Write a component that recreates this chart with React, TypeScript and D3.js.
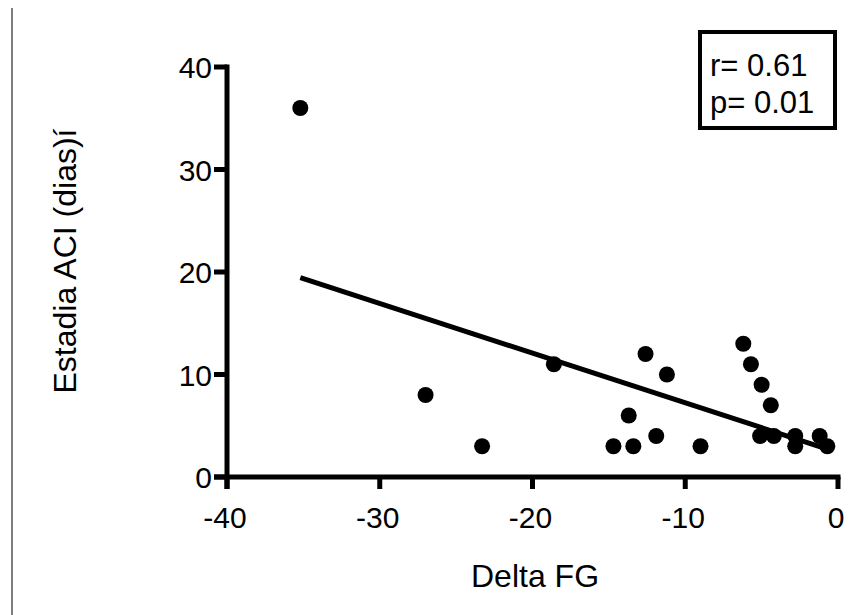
import React from "react";
import * as d3 from "d3";

// Delta FG vs Estadia ACI (dias)
const deltaFG = [
  -35.2, -27.0, -23.3, -18.6, -14.7, -13.4, -13.7, -12.6, -11.9, -11.2, -9.0,
  -6.2, -5.7, -5.0, -4.4, -5.1, -4.2, -2.8, -2.8, -1.2, -0.7,
];
const estadia = [36, 8, 3, 11, 3, 3, 6, 12, 4, 10, 3, 13, 11, 9, 7, 4, 4, 4, 3, 4, 3];
const xTicks = [-40, -30, -20, -10, 0];
const yTicks = [0, 10, 20, 30, 40];
const statsLines = ["r= 0.61", "p= 0.01"];

const W = 852;
const H = 615;
const margin = { top: 67, right: 11, bottom: 138, left: 227 };
const font = "'Liberation Sans', Arial, sans-serif";

function linearFit(xs: number[], ys: number[]) {
  const mx = d3.mean(xs)!;
  const my = d3.mean(ys)!;
  let sxy = 0;
  let sxx = 0;
  xs.forEach((x, i) => {
    sxy += (x - mx) * (ys[i] - my);
    sxx += (x - mx) * (x - mx);
  });
  const slope = sxy / sxx;
  return { slope, intercept: my - slope * mx };
}

export default function App() {
  const x = d3
    .scaleLinear()
    .domain([-40, 0])
    .range([margin.left, W - margin.right - 3]);
  const y = d3
    .scaleLinear()
    .domain([0, 40])
    .range([H - margin.bottom, margin.top]);

  const fit = linearFit(deltaFG, estadia);
  const [x0, x1] = d3.extent(deltaFG) as [number, number];
  const fitLine = d3
    .line<number>()
    .x((d) => x(d))
    .y((d) => y(fit.intercept + fit.slope * d))([x0, x1]);

  const axisW = 5;
  const tickFont = 30;

  return (
    <svg
      width={W}
      height={H}
      style={{ position: "absolute", left: 0, top: 0, background: "#fff" }}
      fontFamily={font}
    >
      {/* thin frame line at the left */}
      <line x1={12} x2={12} y1={8} y2={H} stroke="#555" strokeWidth={1.5} />

      {/* y axis */}
      <line x1={x(-40)} x2={x(-40)} y1={y(40) - 2.5} y2={y(0) + 12} stroke="#000" strokeWidth={axisW} />
      {yTicks.map((t) => (
        <g key={"y" + t}>
          <line x1={x(-40) - 13} x2={x(-40)} y1={y(t)} y2={y(t)} stroke="#000" strokeWidth={axisW} />
          <text x={x(-40) - 15} y={y(t) + 11} textAnchor="end" fontSize={tickFont} fill="#000">
            {t}
          </text>
        </g>
      ))}

      {/* x axis */}
      <line x1={x(-40) - 13} x2={x(0) + 2.5} y1={y(0)} y2={y(0)} stroke="#000" strokeWidth={axisW} />
      {xTicks.map((t) => (
        <g key={"x" + t}>
          <line x1={x(t)} x2={x(t)} y1={y(0)} y2={y(0) + 12} stroke="#000" strokeWidth={axisW} />
          <text x={x(t) - 2} y={y(0) + 51} textAnchor="middle" fontSize={tickFont} fill="#000">
            {t}
          </text>
        </g>
      ))}

      <text x={535} y={587} textAnchor="middle" fontSize={32} fill="#000">
        Delta FG
      </text>
      <text
        transform="translate(76, 261) rotate(-90)"
        textAnchor="middle"
        fontSize={32}
        fill="#000"
      >
        Estadia ACI (dias)í
      </text>

      {/* regression line */}
      <path d={fitLine ?? ""} fill="none" stroke="#000" strokeWidth={5} />

      {/* points */}
      {deltaFG.map((d, i) => (
        <circle key={i} cx={x(d)} cy={y(estadia[i])} r={8} fill="#000" />
      ))}

      {/* stats box */}
      <rect x={700} y={32} width={135} height={96} fill="#fff" stroke="#000" strokeWidth={4} />
      {statsLines.map((s, i) => (
        <text key={s} x={710} y={76 + i * 37} fontSize={31} fill="#000">
          {s}
        </text>
      ))}
    </svg>
  );
}
